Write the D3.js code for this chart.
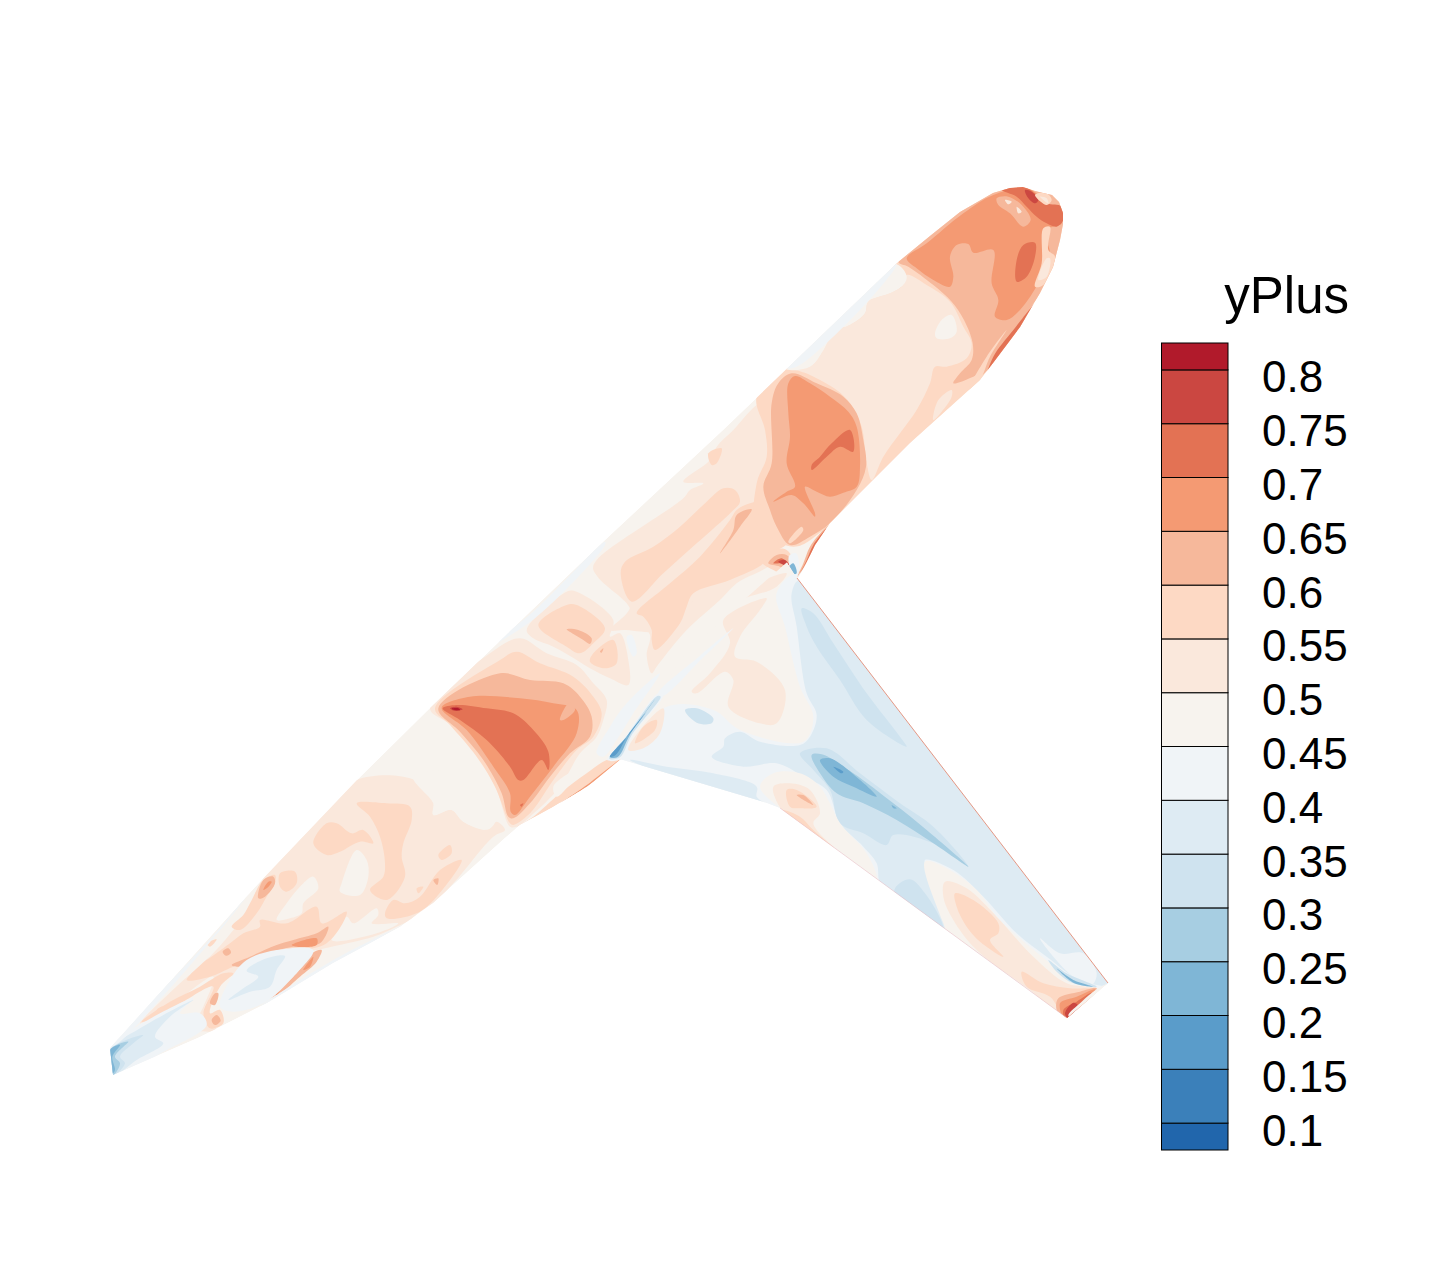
<!DOCTYPE html>
<html><head><meta charset="utf-8"><style>html,body{margin:0;background:#fff}svg{display:block}text{font-family:"Liberation Sans",Arial,sans-serif;fill:#000}</style>
<script src="https://cdn.jsdelivr.net/npm/d3@7"></script></head><body><svg id="c" width="1441" height="1281"></svg>
<script>
const legendTicks=[0.1,0.15,0.2,0.25,0.3,0.35,0.4,0.45,0.5,0.55,0.6,0.65,0.7,0.75,0.8];
const legendLabels=["0.1","0.15","0.2","0.25","0.3","0.35","0.4","0.45","0.5","0.55","0.6","0.65","0.7","0.75","0.8"];
const bandColors=["#2166ac","#3b80ba","#5a9cca","#7fb6d6","#a7cee2","#cfe3ef","#deebf3","#f0f4f7","#f7f3ee","#fae8dc","#fdd9c4","#f6b89b","#f49a73","#e37254","#cb4741","#b11a2b"];
const title="yPlus";
const fuselageOutline=[[110,1048],[257,885],[357,780],[430,708],[605,540],[723,430],[897,263],[930,236],[960,212],[993,193],[1010,188],[1023,187],[1035,191],[1043,193],[1052,195],[1059,202],[1063,213],[1063,224],[1060,240],[1053,267],[1040,293],[1020,327],[993,363],[980,380],[910,443],[830,523],[815,545],[803,570],[797,580],[622,758],[587,787],[553,807],[520,825],[505,838],[433,903],[420,912],[400,927],[333,963],[267,1003],[200,1037],[113,1075]];
const wingOutline=[[610,757],[660,695],[680,660],[727,615],[787,562],[797,578],[1108,983],[1067,1018],[780,808],[767,803],[623,760]];
const leadingEdge=[[797,578],[1108,983]];
const trailingEdge=[[780,808],[1067,1018]];
// tail, frame A
const tailContours=[
[0.5,[[540,230],[650,120],[770,0],[945,0],[1000,60],[1000,105],[1055,90],[1090,125],[1165,148],[1190,125],[1215,150],[1180,170],[1060,310],[975,395],[890,440],[820,470],[695,500],[650,510],[520,535],[430,580],[380,595],[310,700],[350,750],[280,745],[310,680],[340,590],[220,670],[120,730],[240,610],[320,540],[400,450],[450,380],[480,310]]],
[0.45,[[940,-10],[1000,70],[1000,105],[1055,90],[1090,125],[1165,148],[1195,100],[1170,-10]]],
[0.45,[[725,310],[770,210],[800,240],[805,290],[780,345],[720,335]]],
[0.45,[[530,420],[560,370],[610,310],[640,290],[655,325],[610,370],[605,400],[570,415]]],
[0.45,[[695,480],[740,410],[760,430],[830,385],[835,405],[815,430],[895,430],[830,460]]],
[0.55,[[640,190],[680,130],[710,130],[755,160],[790,150],[820,190],[780,185],[720,215],[680,225]]],
[0.55,[[770,70],[860,70],[930,80],[935,120],[910,190],[905,230],[915,290],[860,360],[810,330],[850,290],[855,250],[840,170],[810,110]]],
[0.55,[[855,400],[880,360],[915,370],[960,350],[1020,270],[1085,240],[1010,350],[950,400],[860,415]]],
[0.55,[[1015,225],[1050,195],[1055,220],[1025,240]]],
[0.55,[[540,280],[585,275],[590,310],[560,335],[540,320]]],
[0.55,[[395,440],[430,405],[450,370],[490,300],[525,285],[525,310],[500,350],[470,400],[420,450]]],
[0.55,[[320,540],[390,490],[430,460],[480,440],[480,420],[560,430],[650,380],[665,430],[740,395],[680,490],[520,520],[400,560],[330,590],[260,600],[330,530]]],
[0.55,[[210,665],[300,620],[370,580],[400,580],[360,620],[330,700],[360,690],[370,730],[330,745],[310,700],[340,620],[250,665],[170,715],[125,725]]],
[0.6,[[475,355],[490,300],[520,290],[525,310],[495,350]]],
[0.65,[[490,330],[505,305],[515,305],[500,325]]],
[0.6,[[395,555],[450,530],[530,495],[580,480],[650,460],[685,440],[660,490],[580,500],[500,520],[420,560]]],
[0.65,[[575,495],[650,475],[650,495],[590,500]]],
[0.6,[[495,660],[540,625],[590,580],[635,520],[665,510],[650,545],[600,590],[540,640]]],
[0.65,[[520,640],[540,630],[530,645]]],
[0.65,[[610,570],[640,530],[630,560]]],
[0.6,[[368,515],[385,505],[393,518],[378,527]]],
[0.55,[[170,690],[190,680],[195,695],[178,705]]],
[0.6,[[335,720],[350,705],[362,722],[345,735]]],
[0.6,[[330,670],[345,640],[355,640],[345,675]]],
[0.6,[[1000,300],[1015,295],[1012,315]]],
[0.55,[[950,325],[970,320],[955,340]]],
[0.55,[[320,490],[350,478],[330,500]]],
[0.4,[[360,680],[390,600],[440,540],[530,510],[640,510],[580,590],[490,670],[400,695]]],
[0.35,[[385,660],[430,625],[475,590],[440,572],[500,535],[555,528],[530,570],[510,620],[450,635]]],
[0.4,[[30,805],[110,740],[280,655],[240,700],[300,700],[320,735],[200,810],[50,880]]],
[0.35,[[30,810],[120,745],[280,660],[210,710],[165,770],[190,790],[110,840],[40,885]]],
[0.3,[[30,810],[130,765],[100,790],[60,830],[75,850],[40,885]]],
[0.25,[[30,810],[85,785],[45,830],[60,850],[40,885]]],
[0.2,[[30,810],[60,795],[37,830],[45,870],[38,880]]],
[0.4,[[35,798],[350,455],[450,335],[365,445],[60,785]]],
[0.4,[[480,680],[700,560],[880,450],[960,410],[700,540]]],
[0.6,[[920,430],[980,385],[940,425]]]
];
// centre body, frame B
const centerContours=[
[0.5,[[30,505],[210,340],[300,295],[380,340],[470,375],[520,430],[560,480],[550,540],[530,590],[480,640],[420,740],[330,830],[290,860],[270,860],[230,750],[180,660],[100,560]]],
[0.55,[[45,505],[240,360],[290,335],[360,370],[460,410],[520,470],[545,520],[520,590],[470,630],[400,720],[330,820],[280,855],[270,850],[225,740],[170,650],[90,555]]],
[0.6,[[55,505],[240,400],[330,420],[430,430],[480,470],[515,530],[510,590],[450,640],[390,710],[330,790],[280,835],[265,830],[245,760],[190,660],[120,575]]],
[0.65,[[65,503],[150,470],[300,475],[400,490],[470,510],[470,580],[400,680],[330,770],[285,825],[272,815],[270,760],[220,680],[140,570]]],
[0.7,[[68,505],[110,495],[200,505],[280,520],[340,570],[385,635],[385,690],[365,660],[310,720],[295,720],[270,680],[200,600],[120,540]]],
[0.75,[[90,505],[110,500],[128,508],[105,513]]],
[0.8,[[95,506],[115,505],[120,510],[105,510]]],
[0.6,[[420,540],[445,490],[455,490],[465,510],[430,540]]],
[0.7,[[300,795],[310,790],[305,800]]],
[0.5,[[320,270],[440,155],[470,155],[580,240],[570,290],[600,280],[625,360],[625,435],[570,415],[510,385],[470,360],[400,320],[340,295]]],
[0.55,[[355,255],[440,195],[470,195],[555,265],[520,310],[480,340],[440,320]]],
[0.55,[[510,365],[520,340],[580,300],[590,370],[555,385]]],
[0.6,[[440,268],[475,270],[515,295],[510,312],[490,300],[465,285]]],
[0.6,[[540,335],[550,325],[545,338]]],
[0.4,[[620,290],[635,285],[650,340],[640,350]]],
[0.5,[[525,90],[620,20],[800,-100],[1000,-200],[1070,50],[950,130],[900,180],[800,270],[710,380],[695,400],[680,345],[690,285],[650,240],[620,190]]],
[0.55,[[290,860],[400,800],[500,735],[600,655],[560,660],[500,700],[420,760],[340,830]]],
[0.45,[[400,740],[480,680],[550,650],[480,700],[410,770]]],
[0.65,[[420,790],[500,735],[605,655],[570,690],[500,740]]],
[0.4,[[530,640],[570,560],[620,490],[720,400],[640,520],[590,600],[550,650]]],
[0.4,[[190,330],[340,215],[555,5],[555,15],[345,235]]]
];
// forward body, frame C
const forwardContours=[
[0.5,[[10,420],[20,390],[280,205],[300,180],[340,160],[280,155],[360,90],[380,50],[430,0],[510,-80],[560,-80],[550,0],[520,170],[540,240],[590,340],[530,370],[520,400],[410,470],[300,520],[230,600],[100,600],[60,600],[120,530]]],
[0.55,[[92,430],[105,395],[190,350],[270,290],[350,215],[400,175],[435,180],[450,215],[425,245],[320,340],[220,430],[125,515]]],
[0.55,[[140,550],[240,460],[330,380],[420,270],[440,240],[480,220],[530,210],[545,240],[590,340],[530,375],[520,400],[420,450],[310,490],[290,530],[270,580],[195,660],[185,630],[185,600],[160,560]]],
[0.55,[[355,70],[395,55],[380,100],[365,105]]]
];
// nose, frame D
const noseContours=[
[0.55,[[405,283],[700,30],[1000,30],[1000,400],[700,650],[210,1065],[100,1130],[-10,1060],[-10,940],[20,860],[15,780],[-10,680],[80,595],[150,590]]],
[0.5,[[440,315],[500,345],[570,395],[610,470],[635,520],[620,565],[560,590],[525,590],[510,640],[470,720],[420,790],[370,860],[335,930],[320,880],[305,770],[270,700],[230,660],[150,615],[100,595],[150,590],[190,540],[220,480],[270,465],[315,430],[325,395],[390,370],[430,345]]],
[0.45,[[405,283],[440,318],[430,345],[390,370],[325,395],[315,430],[270,465],[225,480],[190,540],[150,590],[75,595]]],
[0.4,[[410,282],[78,592],[110,590],[300,420],[405,295]]],
[0.6,[[415,275],[445,290],[520,345],[575,395],[612,450],[638,520],[635,570],[600,610],[580,640],[640,620],[660,610],[720,530],[800,430],[880,300],[920,100],[850,40],[700,50],[560,140]]],
[0.45,[[525,490],[545,450],[575,435],[590,485],[570,505],[530,505]]],
[0.65,[[440,265],[500,220],[610,130],[700,75],[800,55],[840,80],[880,130],[905,160],[880,170],[850,180],[870,250],[840,330],[780,420],[740,450],[705,440],[715,390],[695,340],[700,240],[640,248],[625,222],[590,225],[570,260],[580,320],[570,350],[520,330],[470,295]]],
[0.7,[[770,270],[790,225],[825,218],[825,260],[800,320],[770,335]]],
[0.7,[[725,60],[795,52],[830,75],[860,100],[905,110],[910,150],[890,170],[860,160],[830,140],[800,110],[770,80]]],
[0.75,[[795,60],[815,65],[835,90],[825,100],[805,85]]],
[0.6,[[710,85],[745,80],[790,110],[812,150],[790,170],[750,130],[715,105]]],
[0.5,[[735,90],[755,95],[745,103]]],
[0.5,[[770,110],[785,125],[775,130]]],
[0.55,[[825,75],[860,70],[875,90],[860,105]]],
[0.5,[[840,80],[860,85],[865,100]]],
[0.6,[[660,620],[700,540],[760,470],[800,440],[830,395],[850,340],[800,470],[720,560]]],
[0.7,[[830,395],[800,460],[750,530],[680,620],[700,560],[760,480]]],
[0.55,[[850,175],[870,170],[865,240],[885,260],[850,345],[825,350],[845,280]]],
[0.5,[[835,330],[860,265],[870,265],[860,320]]],
[0.55,[[625,660],[680,560],[740,480],[690,560],[660,630]]],
[0.5,[[520,750],[535,690],[575,660],[575,680],[545,725]]],
[0.6,[[95,610],[170,640],[250,680],[290,730],[310,810],[318,890],[290,960],[210,1060],[150,1100],[90,1125],[50,1070],[30,1020],[10,950],[35,880],[35,700],[55,640]]],
[0.65,[[85,640],[105,618],[150,640],[210,680],[265,725],[290,770],[300,890],[290,950],[250,968],[210,980],[170,965],[135,950],[165,1030],[165,1040],[130,1000],[95,975],[40,995],[80,965],[105,950],[80,880],[90,800],[85,730]]],
[0.7,[[155,885],[180,860],[215,820],[270,780],[280,845],[240,830],[200,860],[155,900]]]
];
// forward patches near the wing apex, frame C
const apexContours=[
[0.6,[[440,255],[485,238],[450,290],[390,370],[430,300]]],
[0.55,[[500,230],[515,225],[535,270],[520,275]]],
[0.55,[[595,335],[635,290],[640,300],[600,340]]],
[0.6,[[640,400],[660,350],[700,300],[718,285],[670,370],[622,440]]],
[0.7,[[650,390],[670,345],[710,295],[670,360],[630,430]]],
[0.55,[[515,395],[550,360],[590,360],[625,430],[590,435],[550,420]]],
[0.6,[[535,400],[560,375],[590,375],[620,420],[600,430],[570,410]]],
[0.7,[[550,400],[575,385],[600,410],[580,400]]],
[0.75,[[565,395],[585,390],[600,410]]],
[0.4,[[597,378],[618,370],[628,410],[620,440],[606,430]]],
[0.2,[[598,410],[610,400],[620,430],[608,432]]]
];
// wing, frame E
const wingContours=[
[0.4,[[530,100],[600,40],[1600,1250],[1430,1400],[50,600],[60,590],[200,440],[340,450],[420,510],[610,545],[640,470],[600,380],[555,200]]],
[0.35,[[575,100],[590,200],[620,400],[650,465],[630,530],[600,555],[480,545],[420,515],[375,535],[370,560],[335,590],[430,620],[530,610],[610,650],[680,690],[720,790],[790,860],[830,910],[840,970],[900,1040],[1070,1170],[1040,1090],[980,930],[975,900],[1060,930],[1150,1010],[1250,1120],[1340,1190],[1440,1260],[1530,1275],[1560,1240],[600,60]]],
[0.35,[[90,600],[200,620],[340,640],[470,680],[470,710],[500,735],[300,680]]],
[0.3,[[605,145],[640,160],[700,250],[800,400],[900,530],[920,560],[800,480],[720,360],[650,260],[620,200]]],
[0.3,[[255,450],[290,445],[340,475],[335,490],[290,488]]],
[0.3,[[600,580],[680,565],[780,640],[900,730],[1000,800],[1105,920],[1000,850],[880,825],[860,855],[790,820],[720,790],[690,690],[640,630]]],
[0.25,[[635,585],[665,583],[760,640],[880,730],[980,810],[1105,920],[1000,850],[890,780],[790,730],[710,700],[660,640]]],
[0.2,[[660,600],[690,595],[780,660],[830,710],[760,680],[700,650]]],
[0.2,[[875,735],[890,745],[880,745]]],
[0.15,[[700,620],[730,635],[725,640]]],
[0.3,[[885,985],[930,958],[975,1000],[1030,1100],[1030,1135],[890,1025]]],
[0.4,[[1320,1135],[1380,1180],[1450,1180],[1490,1240],[1475,1275],[1420,1250],[1360,1190]]],
[0.45,[[975,905],[1040,925],[1130,990],[1200,1080],[1350,1210],[1420,1270],[1500,1290],[1400,1375],[1270,1300],[1060,1160],[1030,1090]]],
[0.5,[[1035,965],[1100,985],[1190,1070],[1300,1190],[1400,1270],[1490,1290],[1400,1375],[1290,1290],[1130,1170],[1060,1080],[1030,1010]]],
[0.55,[[1065,1000],[1120,1020],[1195,1090],[1195,1120],[1170,1140],[1210,1190],[1140,1145],[1100,1100],[1070,1040]]],
[0.55,[[1265,1235],[1330,1270],[1410,1285],[1480,1290],[1395,1365],[1350,1310],[1280,1280]]],
[0.6,[[1375,1315],[1440,1295],[1490,1285],[1450,1340],[1400,1385],[1370,1350]]],
[0.65,[[1380,1330],[1430,1310],[1485,1288],[1445,1340],[1400,1385]]],
[0.7,[[1390,1350],[1430,1325],[1475,1298],[1435,1345],[1400,1385]]],
[0.75,[[1395,1360],[1420,1328],[1435,1338],[1405,1375]]],
[0.45,[[1410,1372],[1450,1335],[1525,1270],[1490,1288],[1445,1325],[1405,1365]]],
[0.3,[[1345,1200],[1400,1240],[1490,1280],[1420,1270],[1370,1235]]],
[0.2,[[1370,1225],[1420,1260],[1480,1280],[1420,1268]]],
[0.5,[[370,180],[500,115],[480,150],[420,230],[405,290],[470,305],[555,390],[530,490],[480,490],[385,440],[400,360],[375,335],[290,400],[275,395],[330,340],[390,250]]],
[0.5,[[190,300],[330,160],[480,65],[560,40],[530,80],[400,130],[250,260]]],
[0.5,[[85,570],[120,510],[190,445],[180,520],[130,565]]],
[0.55,[[105,550],[130,500],[170,480],[165,510]]],
[0.45,[[480,680],[520,640],[600,640],[660,680],[690,730],[720,790],[800,880],[830,960],[760,930],[640,820],[540,745]]],
[0.5,[[520,680],[570,670],[630,690],[660,760],[640,790],[720,880],[780,940],[700,880],[600,800],[545,750]]],
[0.55,[[560,690],[590,690],[650,740],[600,745],[570,740]]],
[0.55,[[545,750],[600,770],[640,810],[720,880],[620,810]]],
[0.6,[[590,705],[610,705],[640,735]]],
[0.65,[[545,755],[700,880],[620,820]]]
];
// shock at wing root, frame E
const shockContours=[
[0.4,[[22,600],[75,530],[175,400],[190,405],[100,525],[65,596]]],
[0.3,[[28,596],[80,528],[172,408],[182,410],[95,525],[60,592]]],
[0.2,[[30,592],[84,525],[165,418],[90,524],[54,590]]],
[0.15,[[30,590],[85,526],[140,455],[86,522],[46,586]]],
[0.4,[[175,400],[300,287],[400,205],[305,297],[188,408]]]
];

const svg=d3.select("#c");
const color=d3.scaleThreshold().domain(legendTicks).range(bandColors);
const curve=d3.line().curve(d3.curveCatmullRomClosed.alpha(0.5));
const frame=(x0,y0)=>({x:d3.scaleLinear().domain([0,3]).range([x0,x0+1]),y:d3.scaleLinear().domain([0,3]).range([y0,y0+1])});
const frames={A:frame(100,780),B:frame(420,540),C:frame(590,430),D:frame(760,170),E:frame(600,560)};
const plain=d3.line();
const defs=svg.append("defs");
defs.append("clipPath").attr("id","fus").append("path").attr("d",plain(fuselageOutline)+"Z");
defs.append("clipPath").attr("id","wing").append("path").attr("d",plain(wingOutline)+"Z");
const both=defs.append("clipPath").attr("id","both");
both.append("path").attr("d",plain(fuselageOutline)+"Z");both.append("path").attr("d",plain(wingOutline)+"Z");
function layer(g,rows,fr){
  g.selectAll(null).data(rows).join("path")
   .attr("d",d=>curve(d[1].map(p=>[fr.x(p[0]),fr.y(p[1])])))
   .attr("fill",d=>color(d[0]));
}
const baseColor=color(0.45);
const gf=svg.append("g").attr("clip-path","url(#fus)");
gf.append("path").attr("d",plain(fuselageOutline)+"Z").attr("fill",baseColor);
layer(gf,tailContours,frames.A);
layer(gf,centerContours,frames.B);
layer(gf,forwardContours,frames.C);
layer(gf,noseContours,frames.D);
layer(gf,apexContours,frames.C);
const gw=svg.append("g").attr("clip-path","url(#wing)");
gw.append("path").attr("d",plain(wingOutline)+"Z").attr("fill",baseColor);
layer(gw,wingContours,frames.E);
const gs=svg.append("g").attr("clip-path","url(#both)");
layer(gs,shockContours,frames.E);
svg.append("path").attr("d",plain(leadingEdge)).attr("fill","none").attr("stroke","#e37254").attr("stroke-width",1).attr("stroke-opacity",.7);
svg.append("path").attr("d",plain(trailingEdge)).attr("fill","none").attr("stroke","#e8b8c0").attr("stroke-width",.8).attr("stroke-opacity",.6);

// legend
const ly=d3.scaleLinear().domain([0.075,0.825]).range([1150,343]);
const edges=[0.075,...legendTicks,0.825];
const lx=1161,lw=67;
svg.append("g").selectAll("rect").data(d3.pairs(edges)).join("rect")
 .attr("x",lx+.5).attr("width",lw-.5).attr("y",d=>ly(d[1])).attr("height",d=>ly(d[0])-ly(d[1]))
 .attr("fill",d=>color(d[0])).attr("stroke","#000").attr("stroke-width",1);
svg.append("g").selectAll("text").data(legendTicks).join("text")
 .attr("x",1262).attr("y",d=>ly(d)+22.5).attr("font-size",44)
 .text((d,i)=>legendLabels[i]);
svg.append("text").attr("x",1349).attr("y",313).attr("text-anchor","end").attr("font-size",51).text(title);
</script></body></html>
